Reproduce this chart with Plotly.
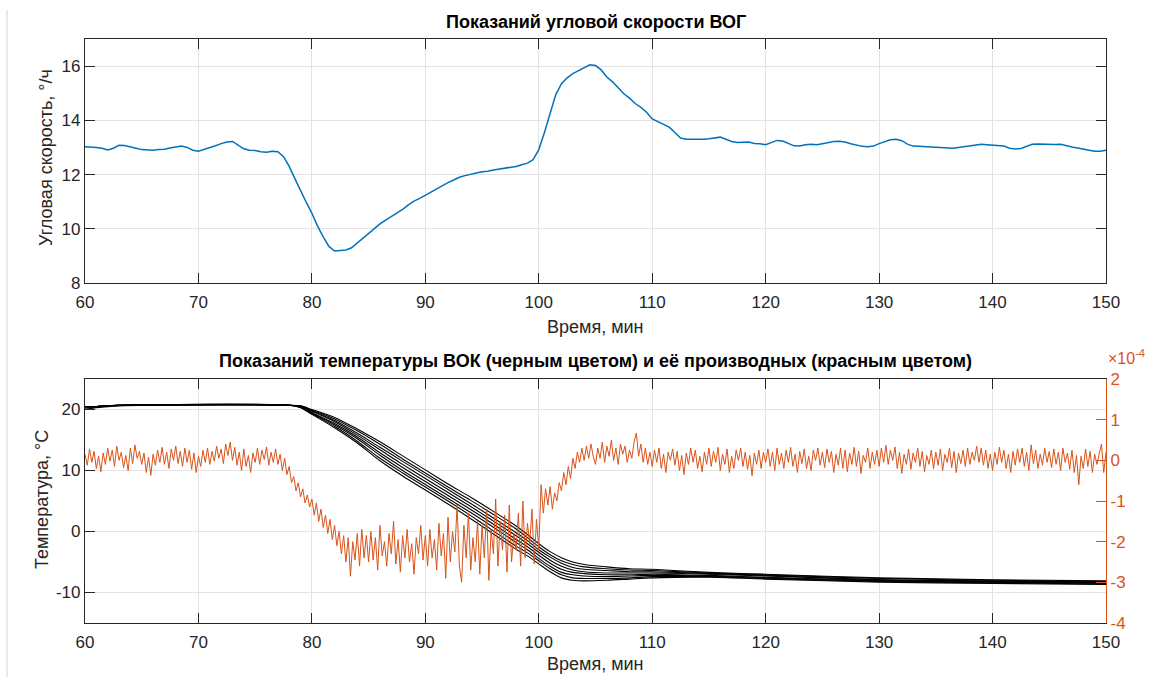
import plotly.graph_objects as go

# ---------------- data ----------------
# Gyro angular rate, deg/h, sampled every 0.5 min from 60 to 150 min
rate_t0, rate_dt = 60.0, 0.5
rate = [
    13.03, 13.02, 13.00, 12.97, 12.91, 12.97, 13.08, 13.07, 13.03, 12.97,
    12.92, 12.91, 12.90, 12.92, 12.93, 12.98, 13.02, 13.05, 13.00, 12.90,
    12.86, 12.92, 13.00, 13.06, 13.14, 13.20, 13.22, 13.08, 12.95, 12.90,
    12.89, 12.84, 12.82, 12.86, 12.84, 12.66, 12.30, 11.85, 11.40, 10.98,
    10.57, 10.10, 9.70, 9.35, 9.18, 9.19, 9.22, 9.30, 9.48, 9.65,
    9.82, 10.00, 10.18, 10.32, 10.45, 10.58, 10.72, 10.88, 11.02, 11.12,
    11.22, 11.35, 11.47, 11.60, 11.70, 11.80, 11.90, 11.96, 12.02, 12.06,
    12.10, 12.12, 12.17, 12.20, 12.23, 12.26, 12.30, 12.36, 12.42, 12.55,
    12.92, 13.55, 14.30, 14.95, 15.35, 15.57, 15.72, 15.84, 15.95, 16.05,
    16.02, 15.86, 15.60, 15.42, 15.20, 14.98, 14.82, 14.62, 14.48, 14.30,
    14.05, 13.95, 13.85, 13.75, 13.55, 13.35, 13.30, 13.30, 13.28, 13.30,
    13.32, 13.36, 13.38, 13.30, 13.22, 13.18, 13.20, 13.20, 13.15, 13.14,
    13.10, 13.18, 13.26, 13.24, 13.14, 13.06, 13.05, 13.10, 13.12, 13.10,
    13.14, 13.18, 13.22, 13.23, 13.20, 13.14, 13.08, 13.04, 13.03, 13.05,
    13.14, 13.22, 13.28, 13.30, 13.25, 13.12, 13.05, 13.04, 13.03, 13.02,
    13.02, 13.00, 12.98, 12.97, 13.00, 13.03, 13.08, 13.10, 13.12, 13.10,
    13.09, 13.08, 13.05, 12.97, 12.94, 12.96, 13.05, 13.12, 13.13, 13.12,
    13.10, 13.11, 13.12, 13.06, 13.02, 12.98, 12.95, 12.90, 12.86, 12.86,
    12.90,
]

# Temperature curves (deg C) at knot times, one list per sensor
temp_t = [60, 61, 63, 78, 79, 80, 82, 84, 86, 88, 90, 92, 94, 96, 98, 99, 100,
          101, 102, 103, 104, 106, 108, 110, 115, 120, 130, 140, 150]
temp_1 = [20.4, 20.5, 20.7, 20.7, 20.3, 19.2, 17.0, 14.5, 11.6, 9.1, 6.8, 4.5, 2.1, -0.4, -2.9,
          -4.0, -5.3, -6.6, -7.6, -8.0, -8.1, -8.0, -7.8, -7.6, -7.5, -7.8, -8.3, -8.5, -8.7]
temp_2 = [20.5, 20.5, 20.7, 20.7, 20.35, 19.3, 17.25, 14.8, 12.0, 9.6, 7.3, 5.0, 2.6, 0.1, -2.4,
          -3.5, -4.8, -6.1, -7.1, -7.6, -7.7, -7.7, -7.6, -7.4, -7.4, -7.7, -8.2, -8.4, -8.6]
temp_3 = [20.4, 20.5, 20.7, 20.7, 20.4, 19.4, 17.5, 15.2, 12.5, 10.0, 7.7, 5.4, 3.1, 0.7, -1.8,
          -3.0, -4.4, -5.7, -6.7, -7.1, -7.3, -7.4, -7.3, -7.2, -7.3, -7.6, -8.1, -8.3, -8.5]
temp_4 = [20.2, 20.4, 20.65, 20.7, 20.45, 19.5, 17.7, 15.5, 12.9, 10.5, 8.2, 5.9, 3.6, 1.2, -1.3,
          -2.5, -3.9, -5.2, -6.2, -6.7, -6.9, -7.1, -7.1, -7.0, -7.2, -7.5, -8.0, -8.2, -8.4]
temp_5 = [20.5, 20.5, 20.7, 20.7, 20.5, 19.7, 18.0, 15.8, 13.4, 11.0, 8.7, 6.4, 4.1, 1.7, -0.7,
          -2.0, -3.4, -4.7, -5.7, -6.3, -6.6, -6.8, -6.8, -6.8, -7.0, -7.3, -7.9, -8.2, -8.4]
temp_6 = [20.4, 20.5, 20.7, 20.7, 20.5, 19.8, 18.2, 16.1, 13.8, 11.5, 9.2, 6.9, 4.6, 2.2, -0.2,
          -1.5, -3.0, -4.2, -5.2, -5.9, -6.2, -6.4, -6.6, -6.6, -6.9, -7.2, -7.9, -8.1, -8.3]
temp_7 = [20.5, 20.5, 20.7, 20.7, 20.55, 19.9, 18.45, 16.5, 14.3, 11.9, 9.6, 7.3, 5.1, 2.8, 0.4,
          -1.0, -2.5, -3.8, -4.8, -5.4, -5.8, -6.1, -6.3, -6.4, -6.8, -7.1, -7.7, -8.0, -8.2]
temp_8 = [20.0, 20.3, 20.6, 20.7, 20.6, 20.0, 18.7, 16.8, 14.7, 12.4, 10.1, 7.8, 5.6, 3.3, 0.9,
          -0.5, -2.0, -3.3, -4.3, -5.0, -5.4, -5.8, -6.1, -6.2, -6.7, -7.0, -7.6, -7.9, -8.1]
temp_curves = [temp_1, temp_2, temp_3, temp_4, temp_5, temp_6, temp_7, temp_8]

# Temperature derivative (x1e-4), sampled every 0.2 min from 60 to 150 min
deriv_t0, deriv_dt = 60.0, 0.2
deriv = [
    # 60.0 - 64.8
    0.15, -0.12, 0.28, -0.05, 0.22, -0.2, 0.1, -0.28, 0.18, -0.1, 0.3, -0.02, 0.25,
    -0.15, 0.35, 0.0, 0.2, -0.18, 0.12, -0.25, 0.3, -0.08, 0.38, 0.05, 0.22,
    # 65.0 - 69.8
    -0.1, 0.18, -0.3, 0.08, -0.37, 0.15, -0.12, 0.25, -0.05, 0.32, -0.1, 0.2, -0.2,
    0.28, 0.0, 0.35, -0.08, 0.22, -0.15, 0.3, -0.05, 0.25, -0.22, 0.18, -0.3,
    # 70.0 - 74.8
    0.1, -0.15, 0.25, -0.05, 0.3, -0.1, 0.22, -0.02, 0.35, 0.05, 0.28, -0.08, 0.4,
    0.12, 0.45, 0.0, 0.32, -0.12, 0.2, -0.25, 0.28, -0.15, 0.12, -0.3, 0.18,
    # 75.0 - 79.8
    -0.05, 0.3, -0.1, 0.25, 0.02, 0.33, -0.12, 0.2, -0.05, 0.28, -0.1, 0.15, -0.25,
    0.05, -0.35, -0.15, -0.55, -0.4, -0.75, -0.55, -0.9, -0.7, -1.05, -0.85, -1.15,
    # 80.0 - 84.8
    -0.95, -1.35, -1.05, -1.5, -1.2, -1.65, -1.35, -1.8, -1.45, -1.95, -1.6, -2.1, -1.75,
    -2.3, -1.85, -2.5, -1.9, -2.85, -2.0, -2.45, -1.8, -2.6, -1.7, -2.4, -1.85,
    # 85.0 - 89.8
    -2.5, -1.75, -2.45, -1.9, -2.7, -1.6, -2.35, -2.0, -2.6, -1.8, -2.3, -1.5, -2.55,
    -1.95, -2.75, -1.85, -2.4, -1.7, -2.5, -2.05, -2.8, -1.9, -2.3, -1.6, -2.45,
    # 90.0 - 94.8
    -1.85, -2.6, -1.7, -2.4, -1.95, -2.7, -1.55, -2.35, -1.8, -2.9, -1.4, -2.5, -1.75,
    -2.25, -1.1, -2.6, -3.0, -1.6, -2.4, -1.3, -2.7, -1.9, -2.5, -1.5, -2.8,
    # 95.0 - 99.8
    -1.6, -2.4, -1.2, -2.95, -1.7, -2.3, -0.95, -2.6, -1.5, -2.2, -1.35, -2.75, -1.1,
    -2.5, -1.8, -2.2, -1.3, -2.6, -1.0, -2.4, -1.55, -2.05, -1.2, -2.55, -1.45,
    # 100.0 - 104.8
    -2.2, -0.6, -1.3, -0.7, -1.1, -0.65, -1.2, -0.8, -1.0, -0.55, -0.75, -0.3, -0.6,
    -0.15, -0.45, 0.05, -0.2, 0.2, -0.05, 0.3, 0.0, 0.35, 0.05, 0.4, 0.1,
    # 105.0 - 109.8
    -0.1, 0.3, 0.05, 0.45, -0.05, 0.35, 0.1, 0.5, 0.0, 0.3, -0.1, 0.4, 0.15,
    0.35, -0.05, 0.25, 0.05, 0.45, 0.67, 0.1, 0.4, -0.05, 0.3, -0.1, 0.2,
    # 110.0 - 114.8
    -0.15, 0.25, -0.05, 0.3, -0.2, 0.15, -0.3, 0.2, 0.0, 0.28, -0.12, 0.22, -0.25,
    0.12, -0.35, 0.18, -0.1, 0.3, -0.05, 0.25, -0.2, 0.1, -0.28, 0.2, -0.1,
    # 115.0 - 119.8
    0.3, -0.15, 0.22, -0.05, 0.32, -0.25, 0.15, -0.1, 0.28, -0.3, 0.1, -0.2, 0.25,
    0.0, 0.3, -0.15, 0.2, -0.22, 0.12, -0.38, 0.18, -0.1, 0.25, -0.2, 0.2,
    # 120.0 - 124.8
    -0.05, 0.28, -0.15, 0.2, -0.25, 0.3, -0.1, 0.18, -0.2, 0.25, -0.05, 0.32, -0.15,
    0.15, -0.3, 0.22, -0.08, 0.28, -0.2, 0.1, -0.25, 0.25, 0.0, 0.3, -0.12,
    # 125.0 - 129.8
    0.2, -0.18, 0.28, -0.05, 0.22, -0.3, 0.15, -0.12, 0.3, -0.2, 0.25, -0.28, 0.18,
    -0.1, 0.32, -0.15, 0.22, -0.32, 0.12, -0.05, 0.3, -0.2, 0.2, -0.1, 0.25,
    # 130.0 - 134.8
    -0.15, 0.3, -0.05, 0.37, -0.1, 0.25, 0.0, 0.33, -0.2, 0.2, -0.32, 0.15, -0.1,
    0.28, -0.22, 0.18, -0.05, 0.3, -0.15, 0.22, -0.28, 0.12, -0.1, 0.25, -0.2,
    # 135.0 - 139.8
    0.2, -0.12, 0.28, -0.25, 0.15, -0.05, 0.3, -0.18, 0.22, -0.3, 0.18, -0.08, 0.25,
    -0.15, 0.3, -0.1, 0.2, 0.0, 0.35, -0.05, 0.3, -0.12, 0.25, -0.2, 0.15,
    # 140.0 - 144.8
    -0.25, 0.2, -0.1, 0.32, -0.05, 0.25, -0.2, 0.15, -0.3, 0.22, -0.12, 0.28, -0.05,
    0.3, -0.15, 0.2, -0.25, 0.38, -0.08, 0.25, -0.2, 0.15, -0.12, 0.3, -0.05,
    # 145.0 - 149.8
    0.22, -0.18, 0.28, -0.1, 0.2, -0.25, 0.3, -0.05, 0.18, -0.22, 0.25, -0.3, 0.12,
    -0.6, 0.1, -0.2, 0.28, -0.15, 0.22, -0.3, 0.15, -0.1, 0.2, 0.4, -0.3,
    # 150.0
    0.2,
]

x_ticks = [60, 70, 80, 90, 100, 110, 120, 130, 140, 150]
rate_ticks = [8, 10, 12, 14, 16]
temp_ticks = [-10, 0, 10, 20]
deriv_ticks = [-4, -3, -2, -1, 0, 1, 2]

# ---------------- style ----------------
W, H = 1156, 677
FONT = "Liberation Sans, Arial, Helvetica, sans-serif"
AX = "#262626"
GRID = "#e3e3e3"
BLUE = "#0072BD"
ORANGE = "#D95319"
TICK_SIZE = 17
LABEL_SIZE = 18
TITLE_SIZE = 18

def px_x(p):
    return p / W

def px_y(p):
    return 1 - p / H

def labels(vals):
    return [str(v) for v in vals]

fig = go.Figure()

fig.add_trace(go.Scatter(y=rate, x0=rate_t0, dx=rate_dt, mode="lines",
                         line=dict(color=BLUE, width=1.5),
                         xaxis="x", yaxis="y", showlegend=False))

for curve in temp_curves:
    fig.add_trace(go.Scatter(x=temp_t, y=curve, mode="lines",
                             line=dict(color="black", width=1.1, shape="spline", smoothing=0.8),
                             xaxis="x2", yaxis="y2", showlegend=False))

fig.add_trace(go.Scatter(y=deriv, x0=deriv_t0, dx=deriv_dt, mode="lines",
                         line=dict(color=ORANGE, width=1),
                         xaxis="x2", yaxis="y3", showlegend=False))

xdom = [px_x(85), px_x(1106)]
tickfont = dict(family=FONT, size=TICK_SIZE, color=AX)
common_x = dict(range=[60, 150], tickvals=x_ticks, ticktext=labels(x_ticks),
                ticks="inside", ticklen=10, ticklabelstandoff=3,
                tickcolor=AX, showline=True, linecolor=AX, linewidth=1.2,
                mirror="ticks", showgrid=True, gridcolor=GRID, gridwidth=1,
                zeroline=False, tickfont=tickfont, automargin=False)
common_y = dict(ticks="inside", ticklen=10, tickcolor=AX, showline=True, linecolor=AX,
                linewidth=1.2, showgrid=True, gridcolor=GRID, zeroline=False,
                tickfont=tickfont, automargin=False)

fig.update_layout(
    width=W, height=H,
    margin=dict(l=0, r=0, t=0, b=0),
    paper_bgcolor="white", plot_bgcolor="white",
    font=dict(family=FONT, color=AX),
    xaxis=dict(domain=xdom, anchor="y", **common_x),
    yaxis=dict(domain=[px_y(283), px_y(39)], anchor="x", range=[8, 17],
               tickvals=rate_ticks, ticktext=labels(rate_ticks), mirror="ticks", **common_y),
    xaxis2=dict(domain=xdom, anchor="y2", **common_x),
    yaxis2=dict(domain=[px_y(623), px_y(379)], anchor="x2", range=[-15, 25],
                tickvals=temp_ticks, ticktext=labels(temp_ticks), mirror=False, **common_y),
    yaxis3=dict(overlaying="y2", side="right", anchor="x2", range=[-4, 2],
                tickvals=deriv_ticks, ticktext=labels(deriv_ticks),
                ticks="inside", ticklen=10,
                tickcolor=ORANGE, showline=True, linecolor=ORANGE, linewidth=1.2,
                showgrid=False, zeroline=False, automargin=False,
                tickfont=dict(family=FONT, size=TICK_SIZE, color=ORANGE)),
    annotations=[
        dict(text="<b>Показаний угловой скорости ВОГ</b>", xref="paper", yref="paper",
             x=(px_x(85) + px_x(1106)) / 2, y=px_y(22), xanchor="center", yanchor="middle",
             showarrow=False, font=dict(family=FONT, size=TITLE_SIZE, color="black")),
        dict(text="<b>Показаний температуры ВОК (черным цветом) и её производных (красным цветом)</b>",
             xref="paper", yref="paper",
             x=(px_x(85) + px_x(1106)) / 2, y=px_y(361), xanchor="center", yanchor="middle",
             showarrow=False, font=dict(family=FONT, size=TITLE_SIZE, color="black")),
        dict(text="Время, мин", xref="paper", yref="paper",
             x=(px_x(85) + px_x(1106)) / 2, y=px_y(327), xanchor="center", yanchor="middle",
             showarrow=False, font=dict(family=FONT, size=LABEL_SIZE, color=AX)),
        dict(text="Время, мин", xref="paper", yref="paper",
             x=(px_x(85) + px_x(1106)) / 2, y=px_y(664), xanchor="center", yanchor="middle",
             showarrow=False, font=dict(family=FONT, size=LABEL_SIZE, color=AX)),
        dict(text="Угловая скорость, °/ч", xref="paper", yref="paper", textangle=-90,
             x=px_x(46), y=px_y(158), xanchor="center", yanchor="middle",
             showarrow=False, font=dict(family=FONT, size=LABEL_SIZE, color=AX)),
        dict(text="Температура, °C", xref="paper", yref="paper", textangle=-90,
             x=px_x(42), y=px_y(500), xanchor="center", yanchor="middle",
             showarrow=False, font=dict(family=FONT, size=LABEL_SIZE, color=AX)),
        dict(text="×10<sup>-4</sup>", xref="paper", yref="paper",
             x=px_x(1106), y=px_y(369), xanchor="left", yanchor="bottom",
             showarrow=False, font=dict(family=FONT, size=16, color=ORANGE)),
    ],
    shapes=[
        dict(type="line", xref="paper", yref="paper", x0=px_x(7), x1=px_x(7),
             y0=0, y1=px_y(10), line=dict(color="#d0d0d0", width=1)),
    ],
)

fig.write_html("out.html")
